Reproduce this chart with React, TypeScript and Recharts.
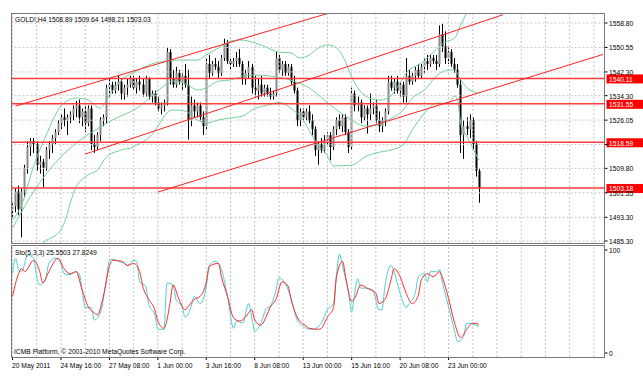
import React from "react";
import { ComposedChart, Bar, Line, XAxis, YAxis, ReferenceLine } from "recharts";

// H4 candles, 20 May 2011 -> 24 Jun 2011
const OPEN = [1496,1497,1502,1496,1502,1510,1517,1519,1518,1511, 1512,1510,1516,1518,1520,1522,1525,1527,1526,1527, 1528,1530,1531,1527,1529,1525,1530,1518,1517,1521, 1526,1527,1537,1538,1536,1538,1539,1535,1537,1538, 1540,1537,1539,1538,1535,1540,1534,1535,1532,1530, 1531,1532,1549,1540,1538,1542,1539,1541,1538,1526, 1531,1529,1531,1527,1524,1545,1542,1545,1544,1542, 1547,1552,1546,1545,1546,1547,1545,1540,1542,1544, 1537,1536,1538,1535,1537,1535,1534,1535,1547,1543, 1545,1542,1544,1539,1536,1526,1529,1527,1529,1526, 1523,1516,1518,1516,1519,1521,1517,1523,1526,1524, 1527,1522,1517,1535,1531,1532,1527,1530,1528,1530, 1531,1526,1524,1526,1529,1539,1537,1539,1536,1538, 1534,1541,1539,1541,1543,1541,1544,1546,1545,1547, 1546,1545,1555,1551,1547,1549,1545,1543,1538,1521, 1524,1523,1526,1518,1508.89];
const HIGH = [1498,1503,1504,1503,1511,1519,1520,1520,1519,1514, 1513,1517,1519,1521,1523,1526,1528,1530,1528,1529, 1531,1532.5,1533,1530,1531,1531,1531,1521,1522,1527, 1528,1538,1540,1539,1539,1541,1540,1538,1540,1541, 1541,1540,1541,1540,1541,1540.5,1536,1536,1534,1532, 1533,1550.5,1550,1543,1544,1543,1542,1545,1543,1534, 1533,1532,1532,1529,1547,1548,1546,1547,1546,1548, 1553.5,1553,1547,1547,1549,1550,1546,1543,1546,1545, 1541,1540,1541,1538,1538,1537,1536,1549,1548,1546, 1546,1545,1545,1541,1537,1530,1530,1530,1531,1528, 1524,1519,1520,1521,1522,1522,1524,1527,1528,1528, 1528,1523,1537,1536,1534,1533,1531,1531,1535,1532, 1533,1529,1527,1530,1541,1541,1540,1541,1539,1539, 1547,1543,1542,1544,1545,1545,1547,1548,1548,1548, 1548,1558,1558.5,1556,1551,1550,1547,1545,1540,1526, 1527,1528,1527,1519,1509.64];
const LOW = [1493,1495,1494,1486.5,1500,1508,1514,1515,1509,1508, 1503.5,1509,1513,1515,1518,1521,1523,1524,1521,1525, 1526,1527,1525,1524,1522,1524,1516,1515,1516,1519, 1524,1525,1534,1535,1535,1536,1533,1533,1534,1537, 1536,1535,1536,1534,1534,1533,1532,1531,1529,1528, 1529,1531,1538,1537,1537,1538,1536,1537,1519.5,1524, 1527,1527,1526,1521,1523,1540,1541,1543,1540,1541, 1546,1545,1543,1544,1544,1544,1538,1538,1540,1535, 1534,1533,1534,1534,1534,1533,1533,1534,1542,1541, 1541,1541,1538,1535,1524,1524,1526,1526,1525,1521, 1514,1511,1515,1515,1517,1512.5,1516,1521,1523,1522, 1521,1515,1516,1529,1529,1525,1526,1521.5,1526,1528, 1525,1522,1522,1524,1528,1536,1535,1535,1534,1532, 1532,1538,1538,1539,1540,1540,1542,1543,1544,1545, 1543,1544,1549,1545,1545,1544,1542,1537,1515,1513, 1521,1520,1516,1507,1498.21];
const CLOSE = [1497,1502,1496,1502,1510,1517,1519,1518,1511,1512, 1510,1516,1518,1520,1522,1525,1527,1526,1527,1528, 1530,1531,1527,1529,1525,1530,1518,1517,1521,1526, 1527,1537,1538,1536,1538,1539,1535,1537,1538,1540, 1537,1539,1538,1535,1540,1534,1535,1532,1530,1531, 1532,1549,1540,1538,1542,1539,1541,1538,1526,1531, 1529,1531,1527,1524,1545,1542,1545,1544,1542,1547, 1552,1546,1545,1546,1547,1545,1540,1542,1544,1537, 1536,1538,1535,1537,1535,1534,1535,1547,1543,1545, 1542,1544,1539,1536,1526,1529,1527,1529,1526,1523, 1516,1518,1516,1519,1521,1517,1523,1526,1524,1527, 1522,1517,1535,1531,1532,1527,1530,1528,1530,1531, 1526,1524,1526,1529,1539,1537,1539,1536,1538,1534, 1541,1539,1541,1543,1541,1544,1546,1545,1547,1546, 1545,1555,1551,1547,1549,1545,1543,1538,1521,1524, 1523,1526,1518,1509,1503.03];

// Bollinger bands as [bar, price]
const BB_UP: [number, number][] = [[0,1492.4],[3,1497.4],[7,1510.6],[11,1520.7],[16,1530.8],[21,1533.5],[25,1532.8],[29,1530.1],[32,1534.5],[36,1539.6],[41,1542.6],[46,1545],[51,1546],[56,1546.3],[61,1546.3],[64,1548],[69,1551],[72,1552.7],[75,1553.1],[82,1551.4],[88,1549],[92,1548.7],[95,1547],[98,1548],[101,1550.4],[104,1551.4],[107,1550.4],[110,1545.7],[112,1540.6],[117,1533.9],[121,1532.8],[124,1533.5],[128,1538.6],[130,1541.9],[135,1545.3],[139,1549],[143,1552.4],[146,1553.7],[148,1558.1],[150,1562.2],[152,1566],[154,1569]];
const BB_MID: [number, number][] = [[0,1489.7],[8,1503.5],[15,1512.6],[21,1518.3],[29,1523.7],[33,1526.1],[41,1530.1],[46,1534.2],[50,1537.6],[53,1539.2],[58,1537.9],[61,1536.2],[64,1536.9],[68,1539.2],[72,1539.6],[76,1540.9],[80,1541.3],[85,1540.9],[93,1539.2],[98,1536.9],[103,1532.8],[107,1529.5],[112,1526.1],[116,1524.1],[120,1524.4],[124,1526.1],[129,1529.5],[132,1533.5],[136,1536.2],[140,1540.9],[144,1543],[146,1543],[148,1539.6],[151,1536.2],[154,1535.2]];
const BB_LOW: [number, number][] = [[0,1478],[5,1478],[10,1484.6],[16,1489],[21,1503.5],[25,1507.6],[28,1509.2],[31,1513.6],[36,1516],[40,1517],[42,1518.3],[45,1520],[48,1524],[51,1528.5],[53,1529.5],[57,1529.1],[61,1526.1],[64,1525.1],[68,1526.1],[72,1526.8],[76,1527.4],[80,1530],[84,1531],[88,1532],[92,1530],[96,1526],[100,1519],[104,1514],[106,1510.6],[112,1510.9],[117,1514],[120,1515],[125,1516],[129,1517.7],[132,1522.7],[137,1529.5],[140,1531.8],[144,1531.8],[146,1534.2],[147,1532.8],[148,1525.1],[150,1520.7],[154,1512.6]];

// Stochastic(5,3,3) main and signal, [bar, value]
const STO_K: [number, number][] = [[0,77],[1,92],[2,81],[3,79],[5,95],[7,92],[8,74],[9,66],[11,73],[12,87],[14,92],[16,87],[17,77],[19,76],[21,79],[22,77],[23,61],[24,44],[26,44],[27,32],[29,39],[31,71],[32,90],[33,91],[35,89],[37,87],[38,85],[40,90],[41,89],[42,69],[44,65],[45,47],[47,37],[48,23],[50,23],[51,68],[53,66],[54,52],[56,45],[57,35],[59,45],[60,55],[62,48],[64,65],[65,85],[67,89],[69,81],[71,55],[73,24],[74,31],[76,29],[78,48],[79,35],[80,21],[82,29],[84,44],[85,45],[87,61],[88,73],[90,68],[92,53],[94,32],[96,26],[97,24],[99,23],[102,29],[104,42],[106,48],[107,77],[108,96],[109,84],[111,58],[112,40],[113,58],[114,72],[115,63],[117,63],[119,61],[121,42],[122,42],[123,65],[125,85],[126,79],[128,58],[130,44],[131,48],[133,58],[134,74],[136,77],[137,69],[138,79],[140,79],[141,81],[142,68],[144,45],[146,21],[147,11],[149,16],[150,29],[152,28],[154,25.5503]];
const STO_D: [number, number][] = [[0,55],[2,77],[3,82],[4,79],[7,90],[9,79],[10,68],[12,79],[15,92],[17,82],[19,77],[21,79],[23,61],[25,45],[27,39],[28,37],[30,55],[32,84],[33,90],[36,89],[38,85],[40,87],[42,79],[43,65],[45,52],[47,42],[48,31],[50,24],[52,48],[53,66],[55,52],[57,42],[58,45],[60,52],[62,55],[64,69],[65,84],[68,87],[69,74],[71,55],[73,34],[75,31],[77,35],[79,42],[80,32],[82,27],[84,37],[85,44],[87,52],[89,69],[91,65],[92,52],[94,35],[97,26],[98,24],[101,23],[102,24],[104,35],[106,44],[107,74],[109,89],[110,74],[112,50],[113,53],[115,66],[117,63],[120,58],[121,48],[123,52],[125,71],[126,82],[128,74],[130,58],[132,48],[134,56],[135,71],[137,77],[139,74],[141,79],[142,73],[144,53],[146,29],[148,15],[150,23],[152,29],[154,27.8249]];

const TIME_LABELS = ["20 May 2011", "24 May 16:00", "27 May 08:00", "1 Jun 00:00", "3 Jun 16:00", "8 Jun 08:00", "13 Jun 00:00", "15 Jun 16:00", "20 Jun 08:00", "23 Jun 00:00"];
const PRICE_TICKS = [1558.8, 1550.55, 1542.3, 1534.3, 1526.05, 1517.8, 1509.8, 1501.55, 1493.3, 1485.3];
const LEVELS = [1540.11, 1531.55, 1518.59, 1503.18];
// trend lines: [bar1, price1, bar2, price2]
const TRENDS = [[1, 1530.8, 104, 1562.0], [24, 1514.6, 162, 1561.6], [48, 1501.8, 195, 1548.2]];

const SLOTS = 196; // bars plus the empty space on the right
const LABEL_STEP = 16;
const GRID_STEP = 8;
const FONT = "'Liberation Sans', Arial, sans-serif";
const BAND = "#74cf9a";
const GRID = "#c4c4c4";

const rows: any[] = Array.from({ length: SLOTS }, (_, i) => ({
  i,
  range: i < CLOSE.length ? [LOW[i], HIGH[i]] : null,
  o: OPEN[i], h: HIGH[i], l: LOW[i], c: CLOSE[i],
}));
BB_UP.forEach(([i, v]) => (rows[i].bu = v));
BB_MID.forEach(([i, v]) => (rows[i].bm = v));
BB_LOW.forEach(([i, v]) => (rows[i].bl = v));
STO_K.forEach(([i, v]) => (rows[i].k = v));
STO_D.forEach(([i, v]) => (rows[i].d = v));

const gridIdx = Array.from({ length: Math.ceil(SLOTS / GRID_STEP) }, (_, k) => k * GRID_STEP);

// MetaTrader's small condensed label font
const NText = ({ x, y, fill = "#000", children }: any) => (
  <text transform={`translate(${x} ${y}) scale(0.84 1)`} fontSize={8} fontFamily={FONT} fill={fill}>
    {children}
  </text>
);

const Candle = (props: any) => {
  const { x, y, width, height, payload } = props;
  if (!payload || payload.h == null) return null;
  const { o, h, l, c } = payload;
  const k = height / (h - l);
  const py = (v: number) => y + (h - v) * k;
  const cx = Math.round(x + width / 2);
  const top = Math.min(py(o), py(c));
  const bot = Math.max(py(o), py(c));
  return (
    <g>
      <line x1={cx + 0.5} x2={cx + 0.5} y1={y} y2={y + height} stroke="#000" strokeWidth={1} />
      <rect x={cx - 0.5} y={top} width={2} height={Math.max(bot - top, 1)} fill={c >= o ? "#8a8a8a" : "#000"} />
    </g>
  );
};

const PriceTick = ({ x, y, payload }: any) => {
  // the tag of a nearby level line covers this label
  const covered = LEVELS.some((v) => Math.abs(v - payload.value) < 1);
  return (
    <g>
      <line x1={x} x2={x + 3} y1={y} y2={y} stroke="#000" />
      {!covered && <NText x={x + 4.5} y={y + 3}>{payload.value.toFixed(2)}</NText>}
    </g>
  );
};

const StoTick = ({ x, y, payload }: any) => (
  <g>
    <line x1={x} x2={x + 3} y1={y} y2={y} stroke="#000" />
    <NText x={x + 4.5} y={y + 3}>{payload.value}</NText>
  </g>
);

const TimeTick = ({ x, y, payload }: any) => {
  const label = TIME_LABELS[payload.value / LABEL_STEP];
  if (!label) return null;
  return (
    <g>
      <line x1={x} x2={x} y1={y} y2={y + 3} stroke="#000" />
      <NText x={x - 0.5} y={y + 11}>{label}</NText>
    </g>
  );
};

const PriceTag = ({ viewBox, value }: any) => {
  const right = viewBox.x + viewBox.width;
  return (
    <g>
      <rect x={right + 2} y={viewBox.y - 4} width={40} height={9} fill="#ff0000" />
      <NText x={right + 4.5} y={viewBox.y + 3.5} fill="#fff">{value.toFixed(2)}</NText>
    </g>
  );
};

export default function App() {
  const last = CLOSE.length - 1;
  const header = `GOLD!,H4  ${OPEN[last].toFixed(2)} ${HIGH[last].toFixed(2)} ${LOW[last].toFixed(2)} ${CLOSE[last].toFixed(2)}`;
  const stoText = `Sto(5,3,3) ${STO_K[STO_K.length - 1][1].toFixed(4)} ${STO_D[STO_D.length - 1][1].toFixed(4)}`;
  return (
    <div style={{ position: "absolute", left: 0, top: 0, width: 643, height: 392, background: "#fff", overflow: "hidden" }}>
      <div style={{ position: "absolute", left: 0, top: 0 }}>
        <ComposedChart width={643} height={245} data={rows} margin={{ top: 13, right: 0, bottom: 2, left: 11 }}>
          <XAxis dataKey="i" type="category" scale="band" hide />
          <YAxis orientation="right" domain={[1484.63, 1562.17]} allowDataOverflow ticks={PRICE_TICKS} interval={0}
            tick={<PriceTick />} tickLine={false} axisLine={false} tickSize={0} tickMargin={0} width={38.5} />
          {gridIdx.map((g) => (
            <ReferenceLine key={"gx" + g} x={g} stroke={GRID} strokeDasharray="2 2" />
          ))}
          {PRICE_TICKS.map((t) => (
            <ReferenceLine key={"gy" + t} y={t} stroke={GRID} strokeDasharray="2 2" />
          ))}
          <Line dataKey="bu" stroke={BAND} strokeWidth={1} dot={false} connectNulls type="monotone" isAnimationActive={false} />
          <Line dataKey="bm" stroke={BAND} strokeWidth={1} dot={false} connectNulls type="monotone" isAnimationActive={false} />
          <Line dataKey="bl" stroke={BAND} strokeWidth={1} dot={false} connectNulls type="monotone" isAnimationActive={false} />
          <Bar dataKey="range" shape={<Candle />} isAnimationActive={false} />
          {LEVELS.map((v) => (
            <ReferenceLine key={"lv" + v} y={v} stroke="#ff3b3b" strokeWidth={1.5}
              label={(p: any) => <PriceTag viewBox={p.viewBox} value={v} />} />
          ))}
          {TRENDS.map(([a, pa, b, pb], n) => (
            <ReferenceLine key={"tr" + n} segment={[{ x: a, y: pa }, { x: b, y: pb }]} stroke="#ff2020" strokeWidth={1} ifOverflow="visible" />
          ))}
        </ComposedChart>
      </div>
      <div style={{ position: "absolute", left: 0, top: 245 }}>
        <ComposedChart width={643} height={147} data={rows} margin={{ top: 0, right: 0, bottom: 0, left: 11 }}>
          <XAxis dataKey="i" type="category" scale="band" interval={LABEL_STEP - 1} tick={<TimeTick />}
            tickLine={false} axisLine={false} tickSize={0} tickMargin={0} height={35} />
          <YAxis orientation="right" domain={[-3.88, 104.85]} allowDataOverflow ticks={[0, 100]} interval={0}
            tick={<StoTick />} tickLine={false} axisLine={false} tickSize={0} tickMargin={0} width={38.5} />
          {gridIdx.map((g) => (
            <ReferenceLine key={"sx" + g} x={g} stroke={GRID} strokeDasharray="2 2" />
          ))}
          <Line dataKey="k" stroke="#48d1cc" strokeWidth={1} dot={false} connectNulls type="monotone" isAnimationActive={false} />
          <Line dataKey="d" stroke="#ff2a2a" strokeWidth={1} dot={false} connectNulls type="monotone" isAnimationActive={false} />
        </ComposedChart>
      </div>
      <svg width={643} height={392} style={{ position: "absolute", left: 0, top: 0, pointerEvents: "none" }}>
        <rect x={11.5} y={13.5} width={593} height={230} fill="none" stroke="#7a7a7a" />
        <rect x={11.5} y={245.5} width={593} height={112} fill="none" stroke="#7a7a7a" />
        <NText x={15} y={22}>{header}</NText>
        <NText x={15} y={255}>{stoText}</NText>
        <NText x={14} y={354}>ICMB Platform, © 2001-2010 MetaQuotes Software Corp.</NText>
      </svg>
    </div>
  );
}
